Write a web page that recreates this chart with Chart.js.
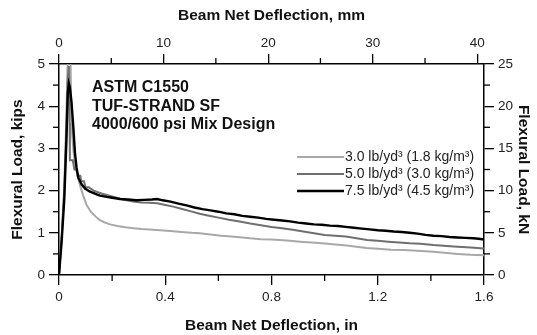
<!DOCTYPE html>
<html>
<head>
<meta charset="utf-8">
<script src="https://cdn.jsdelivr.net/npm/chart.js@4.4.1/dist/chart.umd.min.js"></script>
<style>
  html, body { margin: 0; padding: 0; background: #fff; }
  #wrap { width: 537px; height: 335px; }
</style>
</head>
<body>
<div id="wrap"><canvas id="chart" width="537" height="335"></canvas></div>
<script>
// series labels
var seriesNames = [
  "7.5 lb/yd\u00b3 (4.5 kg/m\u00b3)",
  "5.0 lb/yd\u00b3 (3.0 kg/m\u00b3)",
  "3.0 lb/yd\u00b3 (1.8 kg/m\u00b3)"
];

// deflection (in) / load (kips)
var load75 = [
  [0,0],[0.01,0.8],[0.02,1.8],[0.028,3.2],[0.033,4.3],[0.037,4.54],[0.041,4.45],[0.047,4.1],
  [0.054,3.5],[0.06,2.9],[0.066,2.55],[0.073,2.3],[0.085,2.15],[0.098,2.05],[0.115,1.98],
  [0.135,1.93],[0.154,1.88],[0.18,1.85],[0.2,1.83],[0.23,1.80],[0.26,1.79],[0.29,1.77],
  [0.32,1.78],[0.35,1.79],[0.37,1.80],[0.39,1.77],[0.42,1.74],[0.45,1.69],[0.48,1.65],
  [0.51,1.60],[0.54,1.56],[0.57,1.53],[0.6,1.50],[0.63,1.46],[0.66,1.44],[0.69,1.40],
  [0.72,1.38],[0.75,1.36],[0.78,1.33],[0.81,1.31],[0.84,1.29],[0.87,1.27],[0.9,1.24],
  [0.93,1.22],[0.96,1.20],[0.99,1.19],[1.02,1.17],[1.05,1.16],[1.08,1.14],[1.11,1.12],
  [1.14,1.10],[1.17,1.08],[1.2,1.06],[1.23,1.05],[1.26,1.03],[1.29,1.02],[1.32,1.00],
  [1.35,0.98],[1.38,0.95],[1.41,0.93],[1.44,0.92],[1.47,0.90],[1.5,0.89],[1.53,0.88],
  [1.56,0.87],[1.58,0.86],[1.6,0.84]
];
var load50 = [
  [0,0],[0.01,0.9],[0.02,2.0],[0.028,3.5],[0.033,4.6],[0.037,4.95],[0.04,3.6],[0.041,2.72],
  [0.052,2.72],[0.058,2.5],[0.066,2.5],[0.07,2.35],[0.08,2.35],[0.084,2.22],[0.094,2.22],
  [0.1,2.08],[0.112,2.08],[0.13,2.0],[0.16,1.93],[0.2,1.86],[0.24,1.79],[0.279,1.74],
  [0.31,1.72],[0.34,1.71],[0.37,1.70],[0.4,1.66],[0.43,1.62],[0.46,1.57],[0.49,1.52],
  [0.53,1.45],[0.56,1.41],[0.6,1.36],[0.64,1.31],[0.68,1.27],[0.72,1.22],[0.76,1.18],
  [0.8,1.14],[0.84,1.11],[0.88,1.07],[0.92,1.03],[0.96,0.99],[1.0,0.95],[1.04,0.93],
  [1.08,0.91],[1.12,0.87],[1.16,0.83],[1.2,0.81],[1.24,0.79],[1.28,0.77],[1.32,0.75],
  [1.36,0.74],[1.41,0.71],[1.46,0.69],[1.5,0.67],[1.55,0.65],[1.6,0.63]
];
var load30 = [
  [0,0],[0.01,0.9],[0.02,2.1],[0.027,3.6],[0.032,4.9],[0.037,5.5],[0.043,5.3],[0.046,3.9],
  [0.05,3.3],[0.055,2.9],[0.062,2.6],[0.07,2.35],[0.079,2.13],[0.09,1.9],[0.104,1.66],
  [0.12,1.5],[0.142,1.36],[0.154,1.30],[0.17,1.25],[0.192,1.2],[0.22,1.16],[0.25,1.13],
  [0.28,1.11],[0.31,1.09],[0.34,1.08],[0.38,1.06],[0.42,1.04],[0.46,1.02],[0.5,1.00],
  [0.53,0.99],[0.57,0.96],[0.61,0.93],[0.65,0.91],[0.69,0.89],[0.72,0.87],[0.76,0.85],
  [0.8,0.84],[0.83,0.83],[0.87,0.81],[0.907,0.79],[0.95,0.77],[0.99,0.75],[1.03,0.73],
  [1.083,0.70],[1.12,0.67],[1.158,0.64],[1.2,0.62],[1.25,0.60],[1.3,0.59],[1.333,0.58],
  [1.38,0.56],[1.41,0.55],[1.46,0.52],[1.5,0.5],[1.55,0.48],[1.6,0.47]
];

var seriesColors = ["#000000", "#6f6f6f", "#a8a8a8"];
var seriesWidths = [2.4, 2, 2];

// tick labels of the top axis (mm)
var mmTicks = [0, 10, 20, 30, 40];

// note text in the top left of the plot
var noteLines = ["ASTM C1550", "TUF-STRAND SF", "4000/600 psi Mix Design"];

var FONT = "'Liberation Sans', Arial, sans-serif";

function toPoints(arr) {
  return arr.map(function(p) { return { x: p[0], y: p[1] }; });
}

// minor ticks, note and legend
var extras = {
  id: "extras",
  afterDraw: function(chart) {
    var ctx = chart.ctx;
    var s = chart.scales;
    ctx.save();
    ctx.strokeStyle = "#000";
    ctx.lineWidth = 1.3;
    function minor(scale, step, dir) {
      for (var v = scale.min + step; v < scale.max - 1e-6; v += step * 2) {
        var p = scale.getPixelForValue(v);
        ctx.beginPath();
        if (dir === "b") { ctx.moveTo(p, scale.top); ctx.lineTo(p, scale.top + 6); }
        if (dir === "t") { ctx.moveTo(p, scale.bottom); ctx.lineTo(p, scale.bottom - 6); }
        if (dir === "l") { ctx.moveTo(scale.right, p); ctx.lineTo(scale.right - 6, p); }
        if (dir === "r") { ctx.moveTo(scale.left, p); ctx.lineTo(scale.left + 6, p); }
        ctx.stroke();
      }
    }
    minor(s.x, 0.2, "b");
    minor(s.x2, 5, "t");
    minor(s.y, 0.5, "l");
    minor(s.y2, 2.5, "r");

    // note
    ctx.fillStyle = "#111";
    ctx.font = "bold 16px " + FONT;
    ctx.textBaseline = "middle";
    ctx.textAlign = "left";
    noteLines.forEach(function(t, i) {
      ctx.fillText(t, 92, 88 + i * 18.5);
    });

    // legend (light, medium, black from top)
    ctx.font = "14px " + FONT;
    for (var i = 0; i < 3; i++) {
      var k = 2 - i;
      var y = 157 + i * 17;
      ctx.strokeStyle = seriesColors[k];
      ctx.lineWidth = seriesWidths[k];
      ctx.beginPath();
      ctx.moveTo(297, y);
      ctx.lineTo(344, y);
      ctx.stroke();
      ctx.fillStyle = "#222";
      ctx.fillText(seriesNames[k], 345, y + 0.5);
    }
    ctx.restore();
  }
};

var tickFont = { family: FONT, size: 13.5 };
var titleFont = { family: FONT, size: 15.5, weight: "bold" };

function axisGrid() {
  return { drawOnChartArea: false, drawTicks: true, tickLength: 10, color: "#000", lineWidth: 1.3 };
}

new Chart(document.getElementById("chart"), {
  type: "line",
  data: {
    datasets: [
      { label: seriesNames[0], data: toPoints(load75), borderColor: seriesColors[0], borderWidth: seriesWidths[0] },
      { label: seriesNames[1], data: toPoints(load50), borderColor: seriesColors[1], borderWidth: seriesWidths[1] },
      { label: seriesNames[2], data: toPoints(load30), borderColor: seriesColors[2], borderWidth: seriesWidths[2] }
    ].map(function(d) {
      d.pointRadius = 0; d.tension = 0; d.fill = false; d.xAxisID = "x"; d.yAxisID = "y";
      return d;
    })
  },
  options: {
    responsive: false,
    animation: false,
    layout: { padding: 0 },
    plugins: { legend: { display: false }, tooltip: { enabled: false } },
    scales: {
      x: {
        type: "linear", position: "bottom", min: 0, max: 1.6,
        grid: axisGrid(),
        border: { color: "#000", width: 1.5 },
        ticks: {
          stepSize: 0.4, color: "#222", font: tickFont, padding: 4, maxRotation: 0,
          callback: function(v) { return Math.abs(v) < 1e-9 ? "0" : (+v.toFixed(1)).toString(); }
        },
        title: { display: true, text: "Beam Net Deflection, in", color: "#111", font: titleFont, padding: { top: 1, bottom: 0 } },
        afterFit: function(sc) { sc.height = 60; }
      },
      x2: {
        type: "linear", position: "top", min: 0, max: 40.64,
        grid: axisGrid(),
        border: { color: "#000", width: 1.5 },
        ticks: { color: "#222", font: tickFont, padding: 3, maxRotation: 0 },
        afterBuildTicks: function(sc) {
          sc.ticks = mmTicks.map(function(v) { return { value: v }; });
        },
        title: { display: true, text: "Beam Net Deflection, mm", color: "#111", font: titleFont, padding: { top: 6, bottom: 1 } },
        afterFit: function(sc) { sc.height = 64; }
      },
      y: {
        type: "linear", position: "left", min: 0, max: 5,
        grid: axisGrid(),
        border: { color: "#000", width: 1.5 },
        ticks: { stepSize: 1, color: "#222", font: tickFont, padding: 4 },
        title: { display: true, text: "Flexural Load, kips", color: "#111", font: titleFont, padding: { top: 8, bottom: 0 } },
        afterFit: function(sc) { sc.width = 59; }
      },
      y2: {
        type: "linear", position: "right", min: 0, max: 25,
        grid: axisGrid(),
        border: { color: "#000", width: 1.5 },
        ticks: { stepSize: 5, color: "#222", font: tickFont, padding: 4 },
        title: { display: true, text: "Flexural Load, kN", color: "#111", font: titleFont, padding: { top: 4, bottom: 0 } },
        afterFit: function(sc) { sc.width = 53; }
      }
    }
  },
  plugins: [extras]
});
</script>
</body>
</html>
